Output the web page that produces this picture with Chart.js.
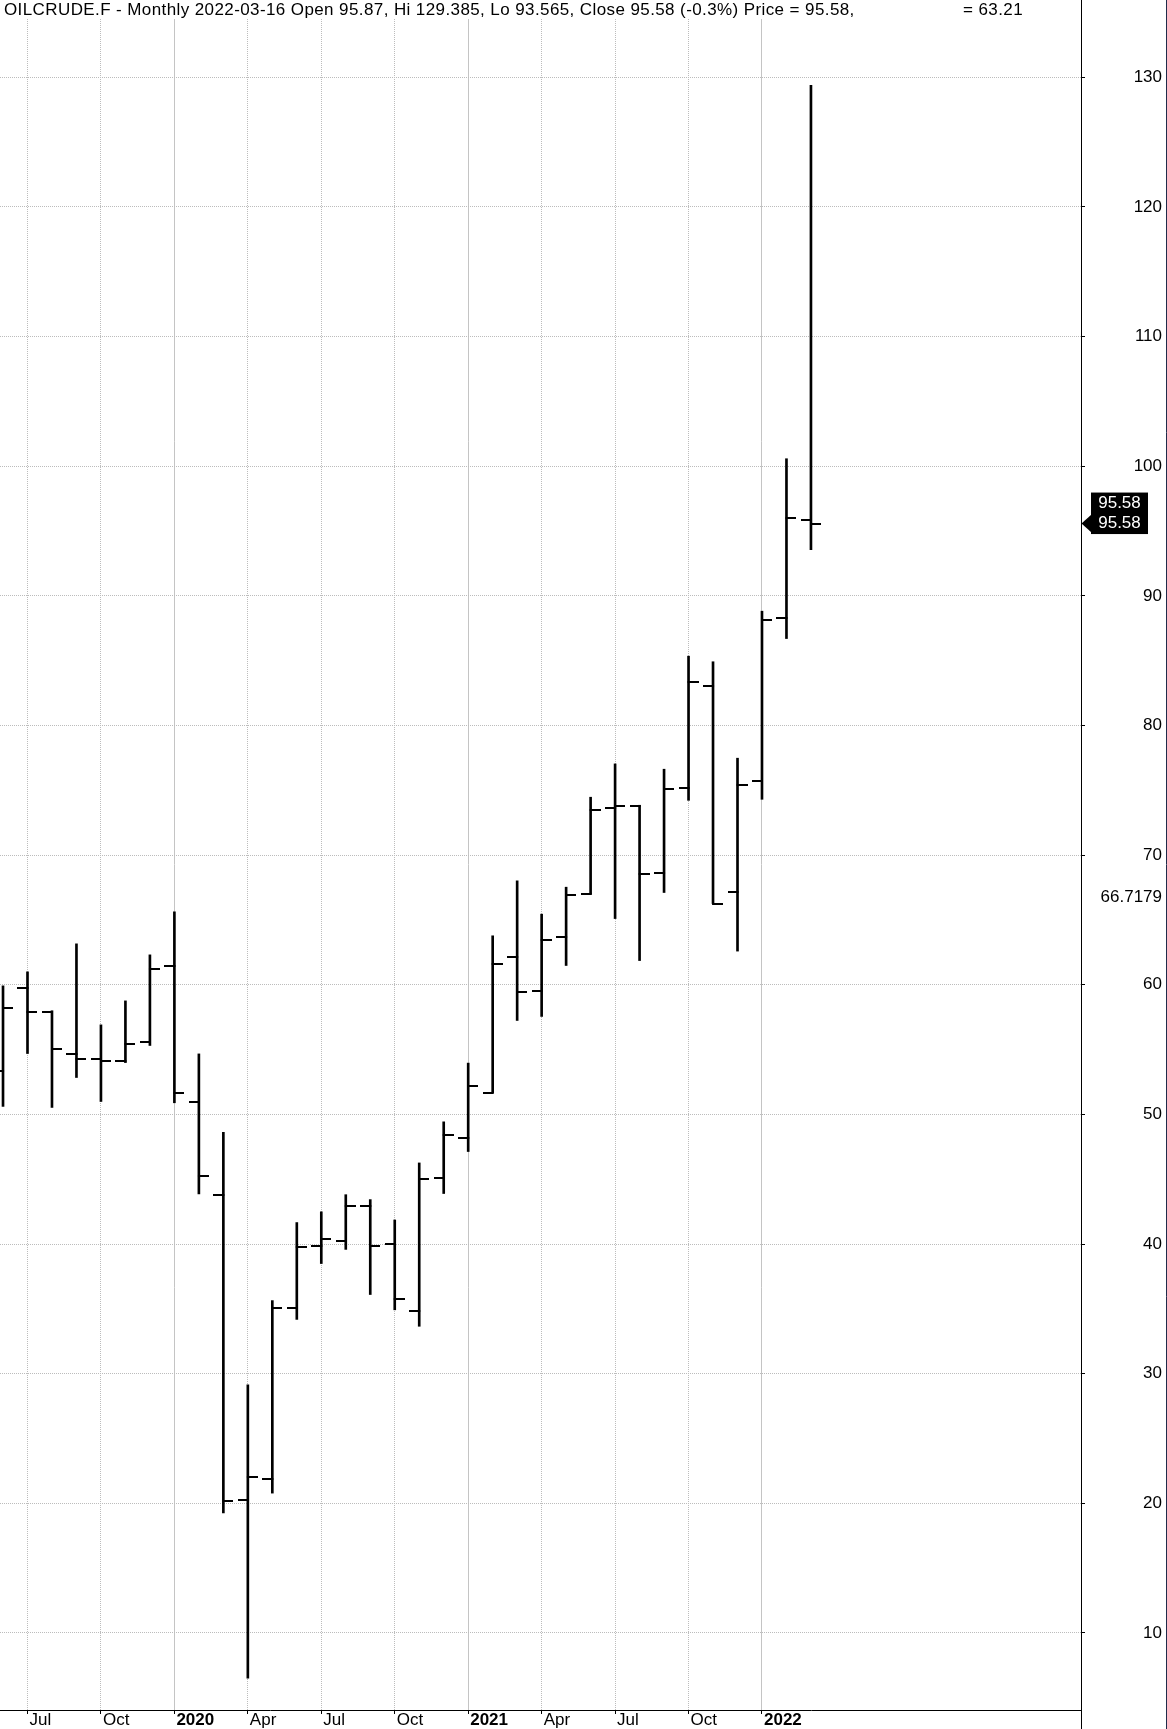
<!DOCTYPE html>
<html>
<head>
<meta charset="utf-8">
<title>OILCRUDE.F Monthly</title>
<script src="https://cdn.jsdelivr.net/npm/chart.js@4.4.1/dist/chart.umd.min.js"></script>
<style>
    html, body { margin: 0; padding: 0; background: #fff; }
    #wrap { width: 1167px; height: 1729px; position: relative; }
</style>
</head>
<body>
<div id="wrap"><canvas id="myChart"></canvas></div>
<script>
var months = ["2019-06", "2019-07", "2019-08", "2019-09", "2019-10", "2019-11", "2019-12",
    "2020-01", "2020-02", "2020-03", "2020-04", "2020-05", "2020-06", "2020-07", "2020-08", "2020-09", "2020-10", "2020-11", "2020-12",
    "2021-01", "2021-02", "2021-03", "2021-04", "2021-05", "2021-06", "2021-07", "2021-08", "2021-09", "2021-10", "2021-11", "2021-12",
    "2022-01", "2022-02", "2022-03"];
var openVals = [53.37, 59.79, 57.92, 54.70, 54.29, 54.14, 55.60,
    61.46, 50.98, 43.81, 20.23, 21.91, 35.10, 39.88, 40.27, 42.90, 40.03, 34.81, 45.12,
    48.22, 51.67, 62.16, 59.54, 63.70, 67.02, 73.60, 73.80, 68.64, 75.19, 83.03, 67.16,
    75.75, 88.27, 95.87];
var highVals = [59.92, 61.00, 58.00, 63.16, 56.91, 58.76, 62.31,
    65.63, 54.67, 48.62, 29.14, 35.64, 41.66, 42.49, 43.81, 43.43, 41.86, 46.26, 49.43,
    53.96, 63.78, 68.02, 65.45, 67.53, 74.47, 77.04, 73.85, 76.63, 85.35, 84.92, 77.48,
    88.82, 100.58, 129.385];
var lowVals = [50.62, 54.70, 50.54, 52.85, 51.00, 54.00, 55.32,
    50.90, 43.87, 19.26, 6.51, 20.79, 34.19, 38.50, 39.59, 36.11, 34.93, 33.66, 43.90,
    47.14, 51.67, 57.25, 57.56, 61.49, 66.98, 65.11, 61.87, 67.12, 74.23, 66.27, 62.60,
    74.31, 86.71, 93.565];
var closeVals = [58.22, 57.92, 55.06, 54.29, 54.14, 55.45, 61.23,
    51.62, 45.29, 20.15, 22.00, 35.10, 39.79, 40.42, 42.90, 39.88, 35.78, 45.05, 48.43,
    52.21, 61.62, 59.46, 63.49, 66.96, 73.50, 73.80, 68.58, 75.11, 83.37, 66.27, 75.41,
    88.14, 95.97, 95.58];

var tickMonths = ["2019-07", "2019-10", "2020-01", "2020-04", "2020-07", "2020-10",
    "2021-01", "2021-04", "2021-07", "2021-10", "2022-01"];
var tickLabels = ["Jul", "Oct", "2020", "Apr", "Jul", "Oct", "2021", "Apr", "Jul", "Oct", "2022"];
var yTickValues = [10, 20, 30, 40, 50, 60, 70, 80, 90, 100, 110, 120, 130];
var markerValue = 66.7179;
var sideValue = "63.21";
var pctChange = "-0.3%";

var FONT = '"Liberation Sans", Arial, sans-serif';
var xMin = -0.123, xMax = 44.03;
var yMin = 4.06, yMax = 134.5;

var tickIdx = tickMonths.map(function (m) { return months.indexOf(m); });
var yearIdx = tickIdx.filter(function (v, i) { return /^\d{4}$/.test(tickLabels[i]); });
function isYear(v) { return yearIdx.indexOf(v) !== -1; }

function makeTick(side) {
    var c = document.createElement("canvas");
    c.width = 20;
    c.height = 2;
    var g = c.getContext("2d");
    g.fillStyle = "#000";
    if (side === "left") g.fillRect(0, 0, 11, 2);
    else g.fillRect(9, 0, 11, 2);
    return c;
}

var last = months.length - 1;
var headerText = "OILCRUDE.F - Monthly 2022-03-16 Open " + openVals[last] + ", Hi " + highVals[last] +
    ", Lo " + lowVals[last] + ", Close " + closeVals[last].toFixed(2) + " (" + pctChange + ") Price = " +
    closeVals[last].toFixed(2) + ",";

var overlay = {
    id: "overlay",
    afterDraw: function (chart) {
        var ctx = chart.ctx;
        var y = chart.scales.y;
        var area = chart.chartArea;
        var ax = Math.round(y.left - 0.5) + 0.5;
        ctx.save();
        ctx.strokeStyle = "#000";
        ctx.lineWidth = 1;
        ctx.beginPath();
        ctx.moveTo(ax, 0);
        ctx.lineTo(ax, area.top);
        ctx.moveTo(ax, area.bottom);
        ctx.lineTo(ax, chart.height);
        ctx.stroke();

        ctx.strokeStyle = "#1f2b4a";
        ctx.beginPath();
        ctx.moveTo(chart.width - 0.5, 0);
        ctx.lineTo(chart.width - 0.5, chart.height);
        ctx.stroke();

        ctx.fillStyle = "#000";
        ctx.font = "17px " + FONT;
        ctx.letterSpacing = "0.4px";
        ctx.textBaseline = "alphabetic";
        ctx.textAlign = "left";
        ctx.fillText(headerText, 4, 15);
        ctx.fillText("= " + sideValue, 963, 15);
        ctx.letterSpacing = "0px";

        var yp = y.getPixelForValue(closeVals[last]);
        var tip = ax;
        ctx.beginPath();
        ctx.moveTo(tip, yp);
        ctx.lineTo(tip + 10, yp - 9);
        ctx.lineTo(tip + 10, yp + 9);
        ctx.closePath();
        ctx.fill();
        ctx.fillRect(tip + 9.5, yp - 31, 57, 41.5);
        ctx.fillStyle = "#fff";
        ctx.font = "17px " + FONT;
        ctx.textAlign = "center";
        ctx.textBaseline = "middle";
        ctx.fillText(closeVals[last].toFixed(2), tip + 38, yp - 20);
        ctx.fillText(closeVals[last].toFixed(2), tip + 38, yp);
        ctx.restore();
    }
};

var chart = new Chart("myChart", {
    data: {
        datasets: [{
            type: "bar",
            data: months.map(function (m, i) { return { x: i, y: [lowVals[i], highVals[i]] }; }),
            backgroundColor: "#000",
            borderWidth: 0,
            barThickness: 2,
            xAxisID: "x",
            yAxisID: "y"
        }, {
            type: "scatter",
            data: months.map(function (m, i) { return { x: i, y: openVals[i] }; }),
            pointStyle: makeTick("left"),
            pointRadius: 3,
            xAxisID: "x",
            yAxisID: "y"
        }, {
            type: "scatter",
            data: months.map(function (m, i) { return { x: i, y: closeVals[i] }; }),
            pointStyle: makeTick("right"),
            pointRadius: 3,
            xAxisID: "x",
            yAxisID: "y"
        }]
    },
    options: {
        responsive: true,
        maintainAspectRatio: false,
        animation: false,
        events: [],
        layout: { autoPadding: false, padding: { top: 19, right: 5, left: 0, bottom: 0 } },
        plugins: {
            legend: { display: false },
            tooltip: { enabled: false }
        },
        scales: {
            x: {
                type: "linear",
                position: "bottom",
                min: xMin,
                max: xMax,
                offset: false,
                afterBuildTicks: function (s) {
                    s.ticks = tickIdx.map(function (v) { return { value: v }; });
                },
                afterFit: function (s) {
                    s.height = 19;
                    s.paddingLeft = 0;
                    s.paddingRight = 0;
                },
                ticks: {
                    autoSkip: false,
                    maxRotation: 0,
                    align: "start",
                    labelOffset: 2,
                    padding: -4,
                    color: "#000",
                    font: function (c) {
                        var bold = c.tick && isYear(c.tick.value);
                        return { family: FONT, size: 17, weight: bold ? "bold" : "normal" };
                    },
                    callback: function (v, i) { return tickLabels[i]; }
                },
                grid: {
                    offset: false,
                    color: function (c) {
                        return c.tick && isYear(c.tick.value) ? "rgba(0,0,0,0)" : "#bcbcbc";
                    },
                    lineWidth: 1,
                    tickLength: 4,
                    tickColor: "#000"
                },
                border: { display: true, color: "#000", width: 1, dash: [1, 1] }
            },
            xYears: {
                type: "linear",
                position: "bottom",
                min: xMin,
                max: xMax,
                offset: false,
                afterBuildTicks: function (s) {
                    s.ticks = yearIdx.map(function (v) { return { value: v }; });
                },
                afterFit: function (s) {
                    s.height = 0;
                    s.paddingLeft = 0;
                    s.paddingRight = 0;
                },
                ticks: { display: false },
                grid: { offset: false, color: "#c4c4c4", lineWidth: 1, drawTicks: false },
                border: { display: false }
            },
            y: {
                type: "linear",
                position: "right",
                min: yMin,
                max: yMax,
                afterBuildTicks: function (s) {
                    s.ticks = yTickValues.map(function (v) { return { value: v }; })
                        .concat([{ value: markerValue }]);
                },
                afterFit: function (s) {
                    s.width = 81;
                    s.paddingTop = 0;
                    s.paddingBottom = 0;
                },
                ticks: {
                    autoSkip: false,
                    crossAlign: "far",
                    padding: 16,
                    color: "#000",
                    font: { family: FONT, size: 17 },
                    callback: function (v) { return String(v); }
                },
                grid: {
                    color: function (c) {
                        return c.tick && c.tick.value === markerValue ? "rgba(0,0,0,0)" : "#bcbcbc";
                    },
                    tickColor: function (c) {
                        return c.tick && c.tick.value === markerValue ? "rgba(0,0,0,0)" : "#000";
                    },
                    lineWidth: 1,
                    tickLength: 4
                },
                border: { display: true, color: "#000", width: 1, dash: [1, 1] }
            }
        }
    },
    plugins: [overlay]
});
</script>
</body>
</html>
